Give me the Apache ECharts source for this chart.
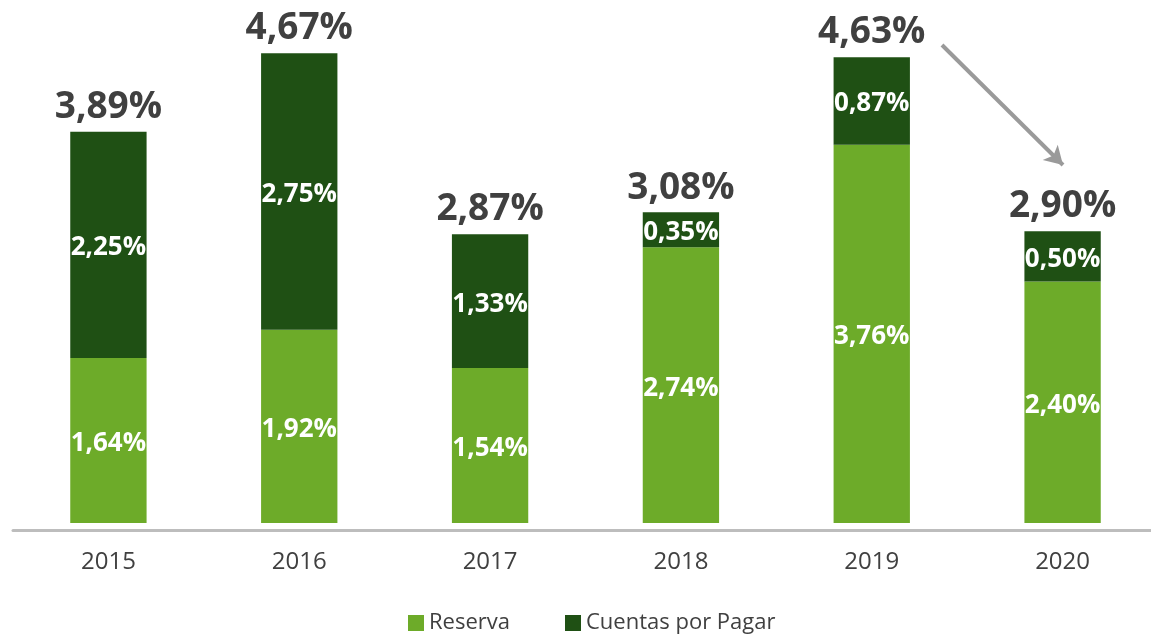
<!DOCTYPE html>
<html>
<head>
<meta charset="utf-8">
<script src="https://cdn.jsdelivr.net/npm/echarts@6/dist/echarts.min.js"></script>
<style>
  html, body { margin: 0; padding: 0; background: #fff; overflow: hidden; }
  #chart { width: 1158px; height: 636px; }
</style>
</head>
<body>
<div id="chart"></div>
<script>
const years = ['2015', '2016', '2017', '2018', '2019', '2020']
const reserva = [1.64, 1.92, 1.54, 2.74, 3.76, 2.40]
const cuentas = [2.25, 2.75, 1.33, 0.35, 0.87, 0.50]
const totals = [3.89, 4.67, 2.87, 3.08, 4.63, 2.90]

const LIGHT = '#6DAB29'
const DARK = '#1F5014'
const TEXT = '#404040'
const FONT = '"Open Sans", "Noto Sans", sans-serif'

function pct(v) {
  return v.toFixed(2).replace('.', ',') + '%'
}

// chart div is a bit wider than the window so the last band runs off the edge like the original
const chart = echarts.init(document.getElementById('chart'), null, { renderer: 'canvas' })

const insideLabel = {
  show: true,
  position: 'inside',
  offset: [0, 3],
  color: '#fff',
  fontFamily: FONT,
  fontWeight: 'bold',
  fontSize: 26,
  formatter: p => pct(p.value),
}

chart.setOption({
  animation: false,
  textStyle: { fontFamily: FONT },
  grid: { left: 13, right: 0, top: 20, bottom: 106 },
  legend: {
    data: ['Reserva', 'Cuentas por Pagar'],
    left: 403,
    top: 607,
    itemWidth: 16,
    itemHeight: 16,
    itemGap: 55,
    icon: 'rect',
    textStyle: { fontSize: 22, color: TEXT, fontFamily: FONT },
  },
  xAxis: {
    type: 'category',
    data: years,
    axisLine: { onZero: false, lineStyle: { color: '#bdbdbd', width: 3 } },
    axisTick: { show: false },
    axisLabel: { fontSize: 24, color: TEXT, margin: 20, fontFamily: FONT },
  },
  yAxis: {
    type: 'value',
    show: false,
    min: -0.07,
    max: 5,
    splitLine: { show: false },
  },
  series: [
    {
      name: 'Reserva',
      type: 'bar',
      stack: 'total',
      barWidth: '40%',
      itemStyle: { color: LIGHT },
      label: insideLabel,
      data: reserva,
    },
    {
      name: 'Cuentas por Pagar',
      type: 'bar',
      stack: 'total',
      barWidth: '40%',
      itemStyle: { color: DARK },
      label: insideLabel,
      data: cuentas,
    },
    {
      name: 'Total',
      type: 'scatter',
      symbolSize: 0,
      silent: true,
      itemStyle: { opacity: 1 },
      label: {
        show: true,
        position: 'top',
        distance: 6,
        color: TEXT,
        fontFamily: FONT,
        fontWeight: 'bold',
        fontSize: 37,
        formatter: p => pct(p.value),
      },
      data: totals,
      markLine: {
        silent: true,
        symbol: ['none', 'arrow'],
        symbolSize: [16, 18],
        label: { show: false },
        lineStyle: { color: '#9a9a9a', width: 4, type: 'solid', opacity: 1 },
        data: [[{ x: 942, y: 45 }, { x: 1063, y: 165 }]],
      },
    },
  ],
})
</script>
</body>
</html>
